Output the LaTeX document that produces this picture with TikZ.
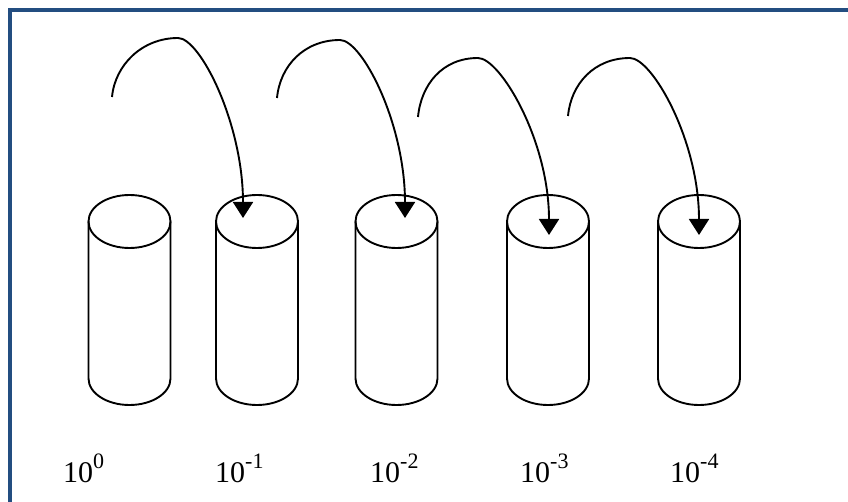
\documentclass[tikz,border=0pt]{standalone}
\usepackage{fontspec}
\setmainfont{Liberation Serif}
\usetikzlibrary{arrows.meta}
\definecolor{framecol}{RGB}{35,77,128}
\newcommand{\expo}[1]{\raisebox{14pt}{\fontsize{22}{22}\selectfont #1}}
\tikzset{
  cylline/.style={line width=1.9pt, draw=black},
  jump/.style={line width=1.9pt, -{Triangle[width=20pt,length=16pt]}},
  lbl/.style={anchor=base west, inner sep=0pt, font=\fontsize{30}{32}\selectfont},
  framebar/.style={line width=4pt, draw=framecol}
}
\begin{document}
\begin{tikzpicture}[x=1pt,y=-1pt]
\useasboundingbox (0,0) rectangle (848,502);
\fill[white] (0,0) rectangle (848,502);
\draw[framebar] (10.3,502) -- (10.3,10.3) -- (848,10.3);

% cylinders
\foreach \n/\cx in {1/129.5,2/257,3/396.5,4/548,5/699}{
  \draw[cylline] (\cx,221.5) ellipse [x radius=41pt, y radius=26.5pt];
  \draw[cylline] (\cx-41,221.5) -- (\cx-41,378.5)
     arc[start angle=180, end angle=360, x radius=41pt, y radius=26.5pt]
     -- (\cx+41,221.5);
  \coordinate (cyl\n) at (\cx,221.5);
}

% arrows
\coordinate (s1) at (112,97);  \coordinate (p1) at (178,38);  \coordinate (e1) at (243,218);
\coordinate (s2) at (277,98);  \coordinate (p2) at (340,40);  \coordinate (e2) at (405,218);
\coordinate (s3) at (418,117); \coordinate (p3) at (478,58);  \coordinate (e3) at (549,235);
\coordinate (s4) at (568,116); \coordinate (p4) at (630,58);  \coordinate (e4) at (699,235);
\foreach \i in {1,2,3,4}{
  \draw[jump] (s\i) .. controls +(3,-32) and +(-36,0) .. (p\i)
                    .. controls +(22,0) and +(0,-95) .. (e\i);
}

% labels
\node[lbl] (l0) at (63,482)  {10\expo{0}};
\node[lbl] (l1) at (215,482) {10\expo{-1}};
\node[lbl] (l2) at (370,482) {10\expo{-2}};
\node[lbl] (l3) at (520,482) {10\expo{-3}};
\node[lbl] (l4) at (670,482) {10\expo{-4}};
\end{tikzpicture}
\end{document}
